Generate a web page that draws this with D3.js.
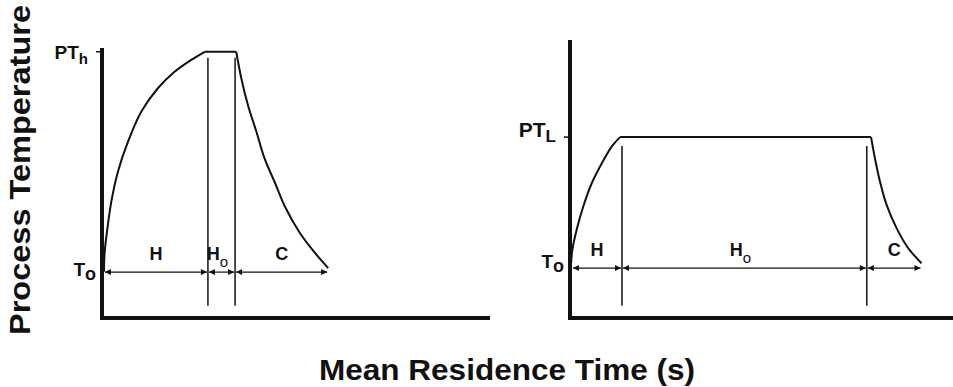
<!DOCTYPE html>
<html>
<head>
<meta charset="utf-8">
<script src="https://cdn.jsdelivr.net/npm/d3@7"></script>
<style>
    body { margin: 0; background: #fff; }
    text { font-family: 'Liberation Sans', Arial, sans-serif; font-weight: 700; fill: #111; }
</style>
</head>
<body>
<div id="chart"></div>
<script>
// curve points (time, temperature) in arbitrary units 0-100
const leftHeat = [[0.5, 17.1], [0.7, 24.6], [1.4, 33.2], [2.4, 43.1], [4.1, 54.2], [6.7, 65.3], [10.1, 76.4], [14.4, 85.1], [18.7, 91.2], [23, 95.6], [26.5, 98.6]];
const leftHold = [[26.5, 98.6], [34.6, 98.6]];
const leftCool = [[34.6, 98.6], [35.9, 88.8], [37.6, 78.9], [39.8, 69], [41.9, 59.1], [44.6, 50], [47.2, 41.1], [51, 31.5], [54.9, 24.1], [58.3, 18.5]];
const leftBounds = [0.5, 27.3, 34.3, 58.3];
const leftArrowTemp = 17;
const leftPeak = 98.6;

const rightHeat = [[0.3, 20.4], [0.6, 25.2], [1.7, 32.6], [3.4, 41.2], [5.6, 49.9], [8.2, 57.3], [10.7, 63.4], [12.9, 67]];
const rightHold = [[12.9, 67], [77.6, 67]];
const rightCool = [[77.6, 67], [78.6, 59.1], [79.9, 50.5], [81.6, 41.9], [84.2, 33.2], [87.2, 25.8], [90.6, 20.3]];
const rightBounds = [0.5, 13.4, 76.5, 90.6];
const rightArrowTemp = 18.5;
const rightPeak = 67;

const segmentNames = ['H', 'H', 'C'];
const segmentSubs = ['', 'o', ''];

const width = 953;
const height = 387;

const svg = d3.select('#chart')
    .append('svg')
    .attr('width', width)
    .attr('height', height);

const defs = svg.append('defs');
['end', 'start'].forEach(kind => {
    defs.append('marker')
        .attr('id', 'arrow-' + kind)
        .attr('viewBox', '0 0 10 10')
        .attr('refX', kind === 'end' ? 10 : 0)
        .attr('refY', 5)
        .attr('markerWidth', 8)
        .attr('markerHeight', 6)
        .attr('markerUnits', 'userSpaceOnUse')
        .attr('orient', 'auto')
        .append('path')
        .attr('d', kind === 'end' ? 'M0,0 L10,5 L0,10 Z' : 'M10,0 L0,5 L10,10 Z')
        .attr('fill', '#111');
});

const y = d3.scaleLinear().domain([0, 100]).range([318, 48]);

const line = d3.line()
    .x(d => d[0])
    .y(d => d[1])
    .curve(d3.curveCatmullRom.alpha(0.5));

function drawPanel(p) {
    const x = p.x;
    const g = svg.append('g').attr('class', 'panel');
    const project = pts => pts.map(d => [x(d[0]), y(d[1])]);

    // axes
    g.append('line')
        .attr('x1', x(0)).attr('x2', x(0))
        .attr('y1', y(0) + 2).attr('y2', y(p.axisTop))
        .attr('stroke', '#111').attr('stroke-width', 4);
    g.append('line')
        .attr('x1', x(0) - 2).attr('x2', x(100))
        .attr('y1', y(0)).attr('y2', y(0))
        .attr('stroke', '#111').attr('stroke-width', 4);
    g.append('line')
        .attr('x1', x(0) - 6).attr('x2', x(0))
        .attr('y1', y(p.peak)).attr('y2', y(p.peak))
        .attr('stroke', '#111').attr('stroke-width', 1.5);

    // temperature profile
    [p.heat, p.hold, p.cool].forEach(pts => {
        g.append('path')
            .attr('d', line(project(pts)))
            .attr('fill', 'none')
            .attr('stroke', '#111')
            .attr('stroke-width', 2)
            .attr('stroke-linejoin', 'round');
    });

    // boundary lines
    g.selectAll('.boundary')
        .data(p.bounds.slice(1, 3))
        .join('line')
        .attr('class', 'boundary')
        .attr('x1', d => x(d)).attr('x2', d => x(d))
        .attr('y1', y(p.peak) + p.vTop).attr('y2', y(4.5))
        .attr('stroke', '#111').attr('stroke-width', 1.5);

    // segment arrows
    const segs = d3.pairs(p.bounds);
    g.selectAll('.seg-arrow')
        .data(segs)
        .join('line')
        .attr('class', 'seg-arrow')
        .attr('x1', d => x(d[0]) + 1).attr('x2', d => x(d[1]) - 1)
        .attr('y1', y(p.arrowTemp)).attr('y2', y(p.arrowTemp))
        .attr('stroke', '#111').attr('stroke-width', 1.2)
        .attr('marker-start', 'url(#arrow-start)')
        .attr('marker-end', 'url(#arrow-end)');

    const labels = g.selectAll('.seg-label')
        .data(segs)
        .join('text')
        .attr('class', 'seg-label')
        .attr('x', (d, i) => x((d[0] + d[1]) / 2) - (segmentSubs[i] ? 4 : 0))
        .attr('y', y(p.arrowTemp) - 12.5)
        .attr('text-anchor', 'middle')
        .style('font-size', '18px');
    labels.append('tspan').text((d, i) => segmentNames[i]);
    labels.append('tspan')
        .attr('dy', 7)
        .style('font-size', '15px')
        .style('font-weight', 400)
        .text((d, i) => segmentSubs[i]);

    // tick labels
    const top = g.append('text')
        .attr('x', x(0) - 14)
        .attr('y', y(p.peak) + p.peakDy)
        .attr('text-anchor', 'end')
        .style('font-size', p.peakSize + 'px');
    top.append('tspan').text('PT');
    top.append('tspan').attr('dy', 5).style('font-size', (p.peakSize - 4) + 'px').text(p.peakSub);

    const low = g.append('text')
        .attr('x', x(0) - 6)
        .attr('y', y(p.arrowTemp) + p.lowDy)
        .attr('text-anchor', 'end')
        .style('font-size', '19px');
    low.append('tspan').text('T');
    low.append('tspan').attr('dy', 4).style('font-size', '18px').text('o');
}

drawPanel({
    x: d3.scaleLinear().domain([0, 100]).range([102, 490]),
    heat: leftHeat, hold: leftHold, cool: leftCool,
    bounds: leftBounds, arrowTemp: leftArrowTemp, peak: leftPeak,
    axisTop: 100, vTop: 6, peakSub: 'h', peakSize: 19, peakDy: 7, lowDy: 4
});

drawPanel({
    x: d3.scaleLinear().domain([0, 100]).range([570, 958]),
    heat: rightHeat, hold: rightHold, cool: rightCool,
    bounds: rightBounds, arrowTemp: rightArrowTemp, peak: rightPeak,
    axisTop: 103, vTop: 9, peakSub: 'L', peakSize: 21, peakDy: 0, lowDy: 0
});

// axis titles
svg.append('text')
    .attr('transform', 'translate(30, 335) rotate(-90)')
    .attr('textLength', 330)
    .attr('lengthAdjust', 'spacingAndGlyphs')
    .style('font-size', '29px')
    .text('Process Temperature');

svg.append('text')
    .attr('x', 319)
    .attr('y', 380)
    .attr('textLength', 376)
    .attr('lengthAdjust', 'spacingAndGlyphs')
    .style('font-size', '29px')
    .text('Mean Residence Time (s)');
</script>
</body>
</html>
